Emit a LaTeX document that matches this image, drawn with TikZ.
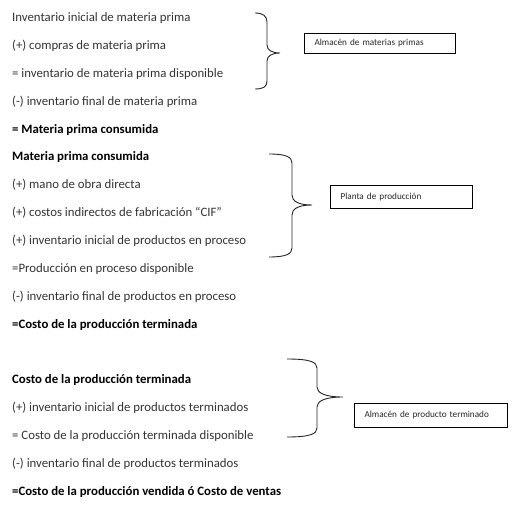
\documentclass[tikz,border=0pt]{standalone}
\usepackage{fontspec}
\setmainfont{Carlito}
\begin{document}
\begin{tikzpicture}[x=1pt,y=-1pt,
  line/.style={anchor=west,inner sep=0pt,font=\fontsize{12.8}{14}\selectfont,text=black!80},
  boldline/.style={line,font=\fontsize{12.8}{14}\selectfont\bfseries,text=black},
  label box/.style={draw,line width=1pt,anchor=north west,inner xsep=10pt,inner ysep=0pt,font=\fontsize{9.2}{11}\selectfont,text=black!85,align=left},
  brace/.style={draw,line width=0.9pt,black!85}]
\useasboundingbox (0,0) rectangle (530,516);
% block 1
\node[line] (a1) at (12,18) {Inventario inicial de materia prima};
\node[line] (a2) at (12,46) {(+) compras de materia prima};
\node[line] (a3) at (12,74) {= inventario de materia prima disponible};
\node[line] (a4) at (12,102) {(-) inventario final de materia prima};
\node[boldline] (a5) at (12,130) {= Materia prima consumida};
% block 2
\node[boldline] (b1) at (12,157) {Materia prima consumida};
\node[line] (b2) at (12,185) {(+) mano de obra directa};
\node[line] (b3) at (12,213) {(+) costos indirectos de fabricación “CIF”};
\node[line] (b4) at (12,241) {(+) inventario inicial de productos en proceso};
\node[line] (b5) at (12,269) {=Producción en proceso disponible};
\node[line] (b6) at (12,297) {(-) inventario final de productos en proceso};
\node[boldline] (b7) at (12,325) {=Costo de la producción terminada};
% block 3
\node[boldline] (c1) at (12,380) {Costo de la producción terminada};
\node[line] (c2) at (12,408) {(+) inventario inicial de productos terminados};
\node[line] (c3) at (12,436) {= Costo de la producción terminada disponible};
\node[line] (c4) at (12,464) {(-) inventario final de productos terminados};
\node[boldline] (c5) at (12,492) {=Costo de la producción vendida ó Costo de ventas};
% boxes
\node[label box,minimum height=20pt,text width=131pt] (box1) at (304,33) {Almacén de materias primas};
\node[label box,minimum height=23pt,text width=122pt] (box2) at (330,185) {Planta de producción};
\node[label box,minimum height=24pt,text width=133pt] (box3) at (354,403) {Almacén de producto terminado};
% braces
\path[brace] (255,13) .. controls (263,13) and (267,16) .. (267,22) -- (267,45)
  .. controls (267,50) and (272,53) .. (280,53)
  .. controls (272,53) and (267,56) .. (267,61) -- (267,81)
  .. controls (267,87) and (263,89) .. (255,89);
\path[brace] (269,154) .. controls (286,154) and (292,157) .. (292,163) -- (292,195)
  .. controls (292,201) and (298,205) .. (312,205)
  .. controls (298,205) and (292,209) .. (292,215) -- (292,248)
  .. controls (292,254) and (286,257) .. (269,257);
\path[brace] (287,359) .. controls (310,359) and (317,362) .. (317,368) -- (317,387)
  .. controls (317,393) and (325,397) .. (343,397)
  .. controls (325,397) and (317,401) .. (317,407) -- (317,428)
  .. controls (317,434) and (310,437) .. (287,437);
\end{tikzpicture}
\end{document}
